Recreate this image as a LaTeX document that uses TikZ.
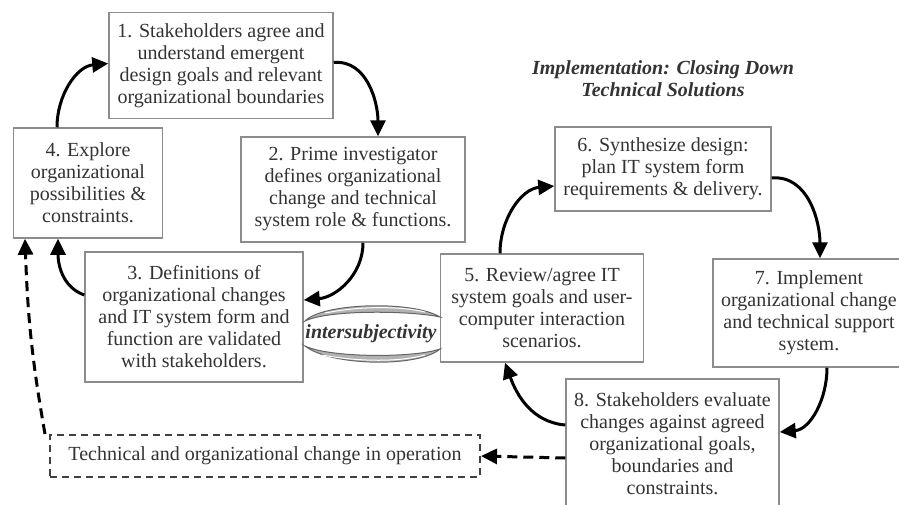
\documentclass[tikz,border=0pt]{standalone}
\usepackage{fontspec}
\setmainfont{Liberation Serif}
\usetikzlibrary{arrows.meta}
\begin{document}
\begin{tikzpicture}[x=1pt,y=-1pt,
  stepbox/.style={draw=black!45, line width=1.5pt, fill=white, text=black!80,
    align=center, inner sep=0pt, font=\fontsize{20}{22}\selectfont},
  flow/.style={line width=3pt, -{Triangle[length=16pt,width=15pt]}},
  dflow/.style={flow, dash pattern=on 10pt off 6pt},
  title/.style={font=\fontsize{20}{22}\selectfont\bfseries\itshape, text=black!80, align=center}]
\useasboundingbox (0,0) rectangle (899,504);
\clip (0,0) rectangle (899,504);

% process steps
\node[stepbox, minimum width=224pt, minimum height=106pt] (b1) at (221,65.5)
  {1. Stakeholders agree and\\understand emergent\\design goals and relevant\\organizational boundaries};
\node[stepbox, minimum width=149pt, minimum height=110pt] (b4) at (88,183)
  {4. Explore\\organizational\\possibilities \&\\constraints.};
\node[stepbox, minimum width=224pt, minimum height=105pt] (b2) at (353,189.5)
  {2. Prime investigator\\defines organizational\\change and technical\\system role \& functions.};
\node[stepbox, minimum width=218pt, minimum height=130pt] (b3) at (194,317)
  {3. Definitions of\\organizational changes\\and IT system form and\\function are validated\\with stakeholders.};
\node[stepbox, minimum width=203pt, minimum height=108pt] (b5) at (542,308)
  {5. Review/agree IT\\system goals and user-\\computer interaction\\scenarios.};
\node[stepbox, minimum width=216pt, minimum height=84pt] (b6) at (663,169)
  {6. Synthesize design:\\plan IT system form\\requirements \& delivery.};
\node[stepbox, minimum width=192pt, minimum height=108pt] (b7) at (809,313)
  {7. Implement\\organizational change\\and technical support\\system.};
\node[stepbox, minimum width=213pt, minimum height=130pt] (b8) at (672.5,444)
  {8. Stakeholders evaluate\\changes against agreed\\organizational goals,\\boundaries and\\constraints.};
\node[stepbox, draw=black!75, line width=2pt, dash pattern=on 7pt off 5pt, minimum width=430pt,
  minimum height=42pt] (ops) at (265,456)
  {Technical and organizational change in operation};

\node[title] (head) at (663,79) {Implementation: Closing Down\\Technical Solutions};

% intersubjectivity loop between steps 3 and 5
\filldraw[fill=black!30, draw=black!60, line width=1pt]
  (305,321) .. controls (322,303) and (412,300) .. (440,317)
  .. controls (414,311) and (330,309) .. (305,321) -- cycle;
\filldraw[fill=black!30, draw=black!60, line width=1pt]
  (305,346) .. controls (330,366) and (418,368) .. (440,349)
  .. controls (414,358) and (330,358) .. (305,346) -- cycle;
\draw[white, line width=1pt] (325,313) .. controls (360,306) and (400,306) .. (425,312);
\draw[white, line width=1pt] (322,355) .. controls (360,362) and (400,362) .. (425,355);
\node[title] (inter) at (371,334) {intersubjectivity};

% left cycle
\draw[flow] ([xshift=-31pt]b4.north) to[out=90,in=185] ([yshift=2pt]b1.west);
\draw[flow] ([yshift=3pt]b1.east) to[out=5,in=90] ([xshift=25pt]b2.north);
\draw[flow] ([xshift=10pt]b2.south) to[out=-90,in=5] ([yshift=17pt]b3.east);
\draw[flow] ([yshift=22pt]b3.west) to[out=160,in=-90] ([xshift=-30pt]b4.south);

% right cycle
\draw[flow] ([xshift=-42pt]b5.north) to[out=90,in=185] ([yshift=-17pt]b6.west);
\draw[flow] ([yshift=-9pt]b6.east) to[out=5,in=90] ([xshift=11pt]b7.north);
\draw[flow] ([xshift=18pt]b7.south) to[out=-90,in=5] ([yshift=12pt]b8.east);
\draw[flow] ([yshift=19pt]b8.west) to[out=175,in=-70] ([xshift=-37pt]b5.south);

% hand-over into operation and feedback
\draw[dflow] ([yshift=-14pt]b8.west) -- (ops.east);
\draw[dflow] ([xshift=-4pt]ops.north west) to[out=100,in=-88] ([xshift=-63pt]b4.south);
\end{tikzpicture}
\end{document}
